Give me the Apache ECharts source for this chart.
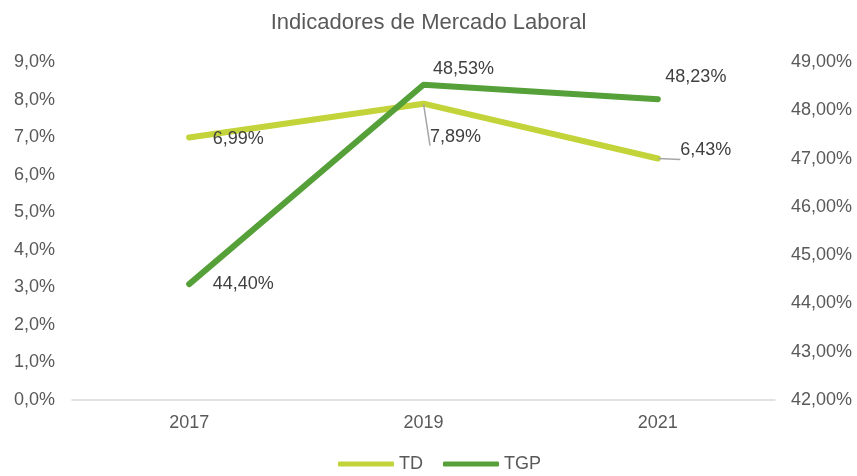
<!DOCTYPE html>
<html lang="es">
<head>
<meta charset="UTF-8">
<title>Indicadores de Mercado Laboral</title>
<script src="https://cdn.jsdelivr.net/npm/echarts@6/dist/echarts.min.js"></script>
<style>
    * { padding: 0; margin: 0; }
    html, body { width: 857px; height: 476px; background: #fff; }
    #chart { width: 857px; height: 476px; }
</style>
</head>
<body>
<div id="chart"></div>
<script>
    var years = ['2017', '2019', '2021'];
    var tdValues = [6.99, 7.89, 6.43];
    var tgpValues = [44.40, 48.53, 48.23];

    // label placement per point (distance right of point, vertical offset)
    var tdLabelPos = [[23, 2], [6, 33], [22, -8]];
    var tgpLabelPos = [[23, 0], [9, -16], [7, -22]];
    // which labels get a leader line
    var tdLeader = [false, true, true];

    function pct(v, d) {
        return v.toFixed(d).replace('.', ',') + '%';
    }

    function buildData(values, pos, digits, leader) {
        return values.map(function (v, i) {
            var item = {
                value: v,
                label: {
                    distance: pos[i][0],
                    offset: [0, pos[i][1]],
                    formatter: function () { return pct(v, digits); }
                }
            };
            if (leader) {
                item.labelLine = { show: leader[i] };
            }
            return item;
        });
    }

    var chart = echarts.init(document.getElementById('chart'));
    var textColor = '#595959';
    var option = {
        textStyle: { fontFamily: 'Liberation Sans, Arial, sans-serif' },
        title: {
            text: 'Indicadores de Mercado Laboral',
            left: 'center',
            top: 7,
            textStyle: { fontSize: 22, fontWeight: 'normal', color: textColor }
        },
        legend: {
            top: 450,
            left: 333,
            icon: 'roundRect',
            itemWidth: 56,
            itemHeight: 5,
            itemGap: 20,
            textStyle: { fontSize: 18, color: textColor },
            data: ['TD', 'TGP']
        },
        grid: { left: 72, right: 82, top: 62, bottom: 76 },
        xAxis: {
            type: 'category',
            data: years,
            axisTick: { show: false },
            axisLine: { lineStyle: { color: '#d9d9d9', width: 1.5 } },
            axisLabel: { fontSize: 18, color: textColor, margin: 14 }
        },
        yAxis: [{
            type: 'value',
            min: 0, max: 9, interval: 1,
            splitLine: { show: false },
            axisLine: { show: false },
            axisLabel: {
                fontSize: 18, color: textColor, margin: 17,
                formatter: function (v) { return pct(v, 1); }
            }
        }, {
            type: 'value',
            min: 42, max: 49, interval: 1,
            splitLine: { show: false },
            axisLine: { show: false },
            axisLabel: {
                fontSize: 18, color: textColor, margin: 16,
                formatter: function (v) { return pct(v, 2); }
            }
        }],
        series: [{
            name: 'TD',
            type: 'line',
            yAxisIndex: 0,
            data: buildData(tdValues, tdLabelPos, 2, tdLeader),
            symbol: 'circle',
            symbolSize: 1,
            itemStyle: { color: '#c3d33a' },
            lineStyle: { width: 6, color: '#c3d33a', cap: 'round' },
            label: { show: true, position: 'right', fontSize: 18, color: '#404040' },
            labelLine: { show: true, lineStyle: { color: '#a6a6a6', width: 1.5 } },
            z: 2
        }, {
            name: 'TGP',
            type: 'line',
            yAxisIndex: 1,
            data: buildData(tgpValues, tgpLabelPos, 2),
            symbol: 'circle',
            symbolSize: 1,
            itemStyle: { color: '#56a039' },
            lineStyle: { width: 6, color: '#56a039', cap: 'round' },
            label: { show: true, position: 'right', fontSize: 18, color: '#404040' },
            z: 3
        }]
    };
    chart.setOption(option);
</script>
</body>
</html>
